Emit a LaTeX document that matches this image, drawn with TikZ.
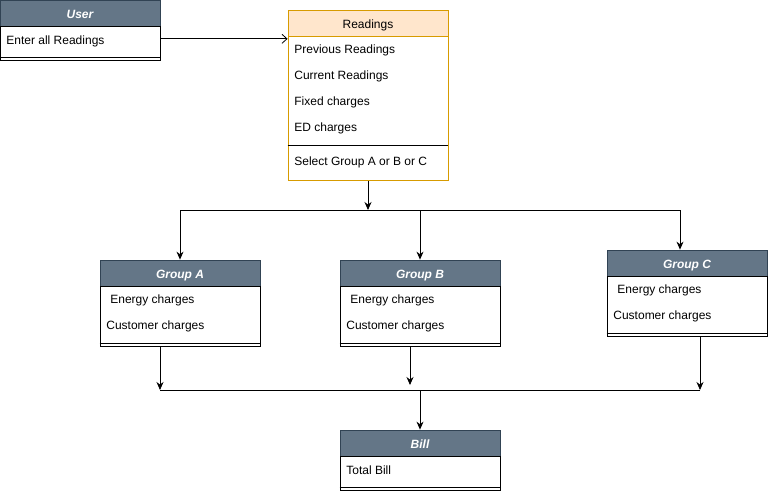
\documentclass[tikz,border=0pt]{standalone}
\usepackage{fontspec}
\setmainfont{Liberation Sans}
\usetikzlibrary{arrows.meta}
\definecolor{headfill}{HTML}{647687}
\definecolor{headline}{HTML}{314354}
\definecolor{readfill}{HTML}{FFE6CC}
\definecolor{readline}{HTML}{D79B00}

\begin{document}
\begin{tikzpicture}[x=1pt, y=-1pt, line width=0.8pt,
  every node/.style={font=\fontsize{12}{14}\selectfont},
  head/.style={draw=headline, fill=headfill, text=white, font=\fontsize{12}{14}\selectfont\bfseries\itshape, minimum width=160pt, minimum height=26pt, inner sep=0pt, text depth=0pt, text height=10pt},
  readhead/.style={draw=readline, fill=readfill, minimum width=160pt, minimum height=26pt, inner sep=0pt, text depth=0pt, text height=10pt},
  body/.style={draw=black, fill=white, minimum width=160pt, inner sep=0pt, anchor=north},
  item/.style={anchor=west, inner sep=0pt, yshift=-1pt},
  arr/.style={-{Stealth[length=8pt,width=7pt]}}]
\useasboundingbox (0,0) rectangle (768,491);

% user
\node[head] (user) at (80,13) {User};
\node[body, minimum height=34pt] (userbody) at (user.south) {};
\draw ([yshift=4pt]userbody.south west) -- ([yshift=4pt]userbody.south east);
\node[item] (enter) at (6,40) {Enter all Readings};

% readings
\node[readhead] (read) at (368,23) {Readings};
\node[body, draw=readline, minimum height=144pt] (readbody) at (read.south) {};
\draw ([yshift=36pt]readbody.south west) -- ([yshift=36pt]readbody.south east);
\node[item] (prev) at (294,49) {Previous Readings};
\node[item] (curr) at (294,75) {Current Readings};
\node[item] (fixed) at (294,101) {Fixed charges};
\node[item] (ed) at (294,127) {ED charges};
\node[item] (select) at (294,161) {Select Group A or B or C};

% groups
\node[head] (grpA) at (180,273) {Group A};
\node[body, minimum height=60pt] (grpAbody) at (grpA.south) {};
\draw ([yshift=4pt]grpAbody.south west) -- ([yshift=4pt]grpAbody.south east);
\node[item] (energyA) at (110,299) {Energy charges};
\node[item] (custA) at (106,325) {Customer charges};

\node[head] (grpB) at (420,273) {Group B};
\node[body, minimum height=60pt] (grpBbody) at (grpB.south) {};
\draw ([yshift=4pt]grpBbody.south west) -- ([yshift=4pt]grpBbody.south east);
\node[item] (energyB) at (350,299) {Energy charges};
\node[item] (custB) at (346,325) {Customer charges};

\node[head] (grpC) at (687,263) {Group C};
\node[body, minimum height=60pt] (grpCbody) at (grpC.south) {};
\draw ([yshift=4pt]grpCbody.south west) -- ([yshift=4pt]grpCbody.south east);
\node[item] (energyC) at (617,289) {Energy charges};
\node[item] (custC) at (613,315) {Customer charges};

% bill
\node[head] (bill) at (420,443) {Bill};
\node[body, minimum height=34pt] (billbody) at (bill.south) {};
\draw ([yshift=4pt]billbody.south west) -- ([yshift=4pt]billbody.south east);
\node[item] (total) at (346,469) {Total Bill};

% connectors
\coordinate (split) at (368,210);
\coordinate (splitA) at (180,210);
\coordinate (splitC) at (680,210);
\coordinate (joinA) at (160,390);
\coordinate (joinB) at (410,385);
\coordinate (joinC) at (700,390);

\draw[-{Straight Barb[length=5pt,width=9pt]}] ([yshift=5pt]userbody.east) -- ([yshift=5pt]userbody.east -| readbody.west);
\draw[arr] (readbody.south) -- (split);
\draw (splitA) -- (splitC);
\draw[arr] (splitA) -- (grpA.north);
\draw[arr] (splitA -| grpB.north) -- (grpB.north);
\draw[arr] (splitC) -- (splitC |- grpC.north);

\draw[arr] (grpAbody.south -| joinA) -- (joinA);
\draw[arr] (grpBbody.south -| joinB) -- (joinB);
\draw[arr] (grpCbody.south -| joinC) -- (joinC);
\draw (joinA) -- (joinC);
\draw[arr] (joinA -| bill.north) -- (bill.north);
\end{tikzpicture}
\end{document}
